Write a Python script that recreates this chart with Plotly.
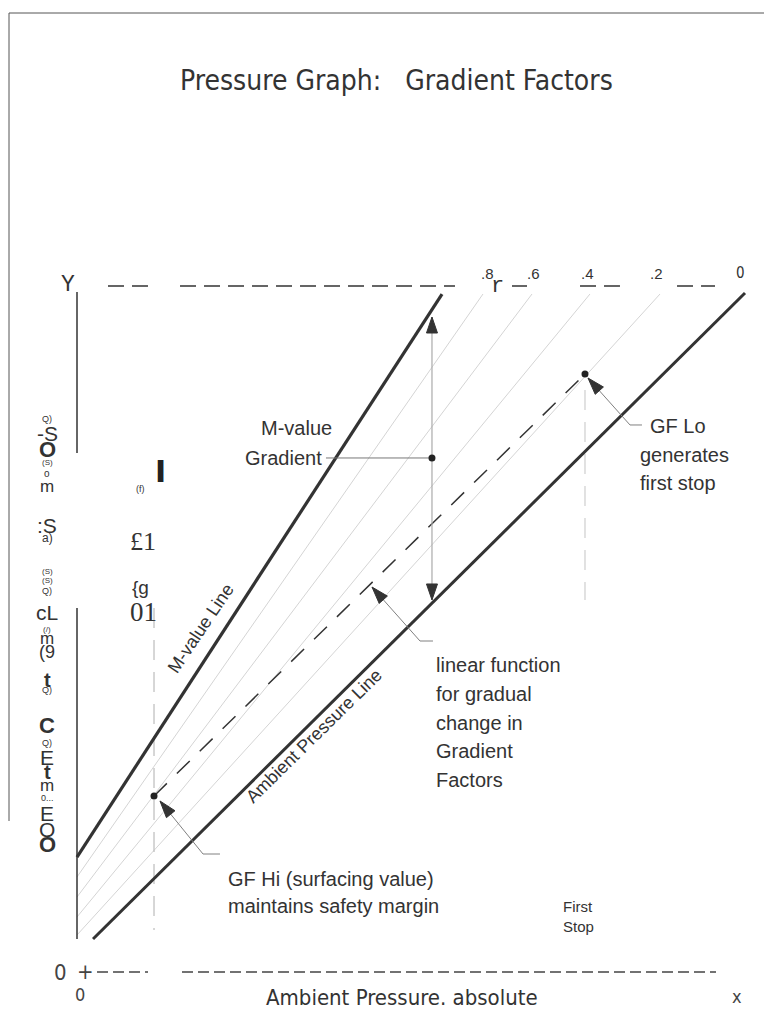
import math
import plotly.graph_objects as go

# ---------------- figure geometry (layout) ----------------
WIN_W, WIN_H = 772, 1011
OFF = 8                                  # page body margin
W, H = WIN_W - OFF, WIN_H - OFF          # figure size
X0_PX, X10_PX = 77, 742                  # window px of data x = 0 and x = 10
Y0_PX, Y10_PX = 972, 286                 # window px of data y = 0 and y = 10
SX = (X10_PX - X0_PX) / 10.0
SY = (Y0_PX - Y10_PX) / 10.0
X_RANGE = [-(X0_PX - OFF) / SX, (W - (X0_PX - OFF)) / SX]
Y_RANGE = [-(H - (Y0_PX - OFF)) / SY, (Y0_PX - OFF) / SY]

# ---------------- data ----------------
# M-value line and ambient pressure line (x = ambient pressure, y = inert gas pressure)
mvalue_x = [0.0, 5.489]
mvalue_y = [1.676, 9.883]
ambient_x = [0.241, 10.045]
ambient_y = [0.481, 9.898]

# gradient factor lines between them
gf_labels = [".8", ".6", ".4", ".2", "0"]
gf_label_x = [6.18, 6.86, 7.68, 8.72, 9.98]
gf_start_y = [1.385, 1.093, 0.802, 0.539]
gf_end_x = [6.105, 6.842, 7.714, 8.767]
gf_end_y = 9.883

# GF Hi (surfacing) point -> GF Lo (first stop) point
gf_path_x = [1.158, 7.639]
gf_path_y = [2.566, 8.717]
gf_hi_drop_y = [5.306, 0.612]
gf_lo_drop_y = [8.484, 5.423]

# M-value gradient double arrow
gradient_x = 5.338
gradient_y = [9.548, 5.423]
gradient_mid_y = 7.493
gradient_label_x = 3.744

# call-out arrows: [label end, bend, tip]
callout_gfhi_x = [2.150, 1.895, 1.248]
callout_gfhi_y = [1.720, 1.720, 2.493]
callout_linear_x = [5.353, 5.158, 4.436]
callout_linear_y = [4.825, 4.825, 5.612]
callout_gflo_x = [8.496, 8.316, 7.684]
callout_gflo_y = [7.974, 7.974, 8.659]

# axes (drawn as dashed rules like the scan)
y_axis_segments = [(9.913, 7.566), (5.306, 0.481)]
top_rule_segments = [(0.466, 1.098), (1.549, 5.684), (6.541, 6.767), (7.564, 8.165), (9.023, 9.594)]
bottom_rule_segments = [(0.301, 1.068), (1.579, 9.609)]

SANS = "Liberation Sans, Arial, sans-serif"
NARROW = "Liberation Sans Narrow, DejaVu Sans Condensed, Liberation Sans, sans-serif"
SERIF = "Liberation Serif, DejaVu Serif, serif"
MONO = "Liberation Mono, DejaVu Sans Mono, monospace"
DARK = "#333333"

fig = go.Figure()


def line(xs, ys, color=DARK, width=1.0, dash=None):
    fig.add_trace(go.Scatter(x=xs, y=ys, mode="lines", hoverinfo="skip",
                             line=dict(color=color, width=width, dash=dash)))


def head(tip_x, tip_y, from_x, from_y, length=16, width=10, color=DARK):
    dx = (from_x - tip_x) * SX
    dy = -(from_y - tip_y) * SY
    d = math.hypot(dx, dy)
    ux, uy = dx / d, dy / d
    bx, by = ux * length, uy * length
    nx, ny = -uy * width / 2, ux * width / 2
    pts = [(0, 0), (bx + nx, by + ny), (bx - nx, by - ny), (0, 0)]
    xs = [tip_x + p[0] / SX for p in pts]
    ys = [tip_y - p[1] / SY for p in pts]
    fig.add_trace(go.Scatter(x=xs, y=ys, mode="lines", fill="toself", fillcolor=color,
                             hoverinfo="skip", line=dict(color=color, width=1)))


# thin gradient factor lines
for sy, ex in zip(gf_start_y, gf_end_x):
    line([0.0, ex], [sy, gf_end_y], color="#d4d4d4", width=1)

# vertical dashed drops
line([gf_path_x[0]] * 2, gf_hi_drop_y, color="#bdbdbd", width=1.2, dash="20px,12px")
line([gf_path_x[1]] * 2, gf_lo_drop_y, color="#cfcfcf", width=1.2, dash="20px,12px")

# axes
for a, b in y_axis_segments:
    line([0.0, 0.0], [a, b], color=DARK, width=1.5)
for a, b in top_rule_segments:
    line([a, b], [10.0, 10.0], color=DARK, width=1.5, dash="16px,8px")
for a, b in bottom_rule_segments:
    line([a, b], [0.0, 0.0], color="#444444", width=1.5, dash="11px,5px")

# main lines
line(mvalue_x, mvalue_y, color=DARK, width=3.2)
line(ambient_x, ambient_y, color=DARK, width=3.0)

# GF path
line(gf_path_x, gf_path_y, color=DARK, width=1.5, dash="18px,14px")

# M-value gradient
line([gradient_x, gradient_x], gradient_y, color="#aaaaaa", width=1.2)
line([gradient_label_x, gradient_x], [gradient_mid_y, gradient_mid_y], color="#777777", width=1)
head(gradient_x, gradient_y[0], gradient_x, gradient_y[1], length=16, width=11)
head(gradient_x, gradient_y[1], gradient_x, gradient_y[0], length=16, width=11)

# call-outs
for cx, cy in [(callout_gfhi_x, callout_gfhi_y), (callout_linear_x, callout_linear_y),
               (callout_gflo_x, callout_gflo_y)]:
    line(cx, cy, color="#808080", width=1)
    head(cx[2], cy[2], cx[1], cy[1], length=17, width=11)

# points
fig.add_trace(go.Scatter(x=[gf_path_x[0], gf_path_x[1], gradient_x],
                         y=[gf_path_y[0], gf_path_y[1], gradient_mid_y],
                         mode="markers", hoverinfo="skip",
                         marker=dict(color="#222222", size=7)))

# ---------------- text ----------------
ann = []


def T(text, x, y, size=20, family=SANS, xanchor="center", angle=0, color=DARK):
    ann.append(dict(text=text, xref="paper", yref="paper", x=(x - OFF) / W, y=1 - (y - OFF) / H,
                    xanchor=xanchor, yanchor="middle", showarrow=False, textangle=angle,
                    font=dict(size=size, family=family, color=color)))


T("Pressure Graph:   Gradient Factors", 396, 80, size=28, family=NARROW)
T("Y", 68, 285, size=23, family=MONO)
T("r", 497, 286, size=22, family=MONO)
for lab, lx in zip(gf_labels, gf_label_x):
    T(lab, X0_PX + lx * SX, 273, size=15, family=SANS if lab != "0" else NARROW)

T("M-value", 296, 428)
T("Gradient", 324, 458, xanchor="right")
T("M-value Line", 201, 628, size=18, angle=-56)
T("Ambient Pressure Line", 314, 736, size=18, angle=-44.5)

for i, s in enumerate(["linear function", "for gradual", "change in", "Gradient", "Factors"]):
    T(s, 434, 665 + i * 28.8, xanchor="left")
T("GF Hi (surfacing value)", 226, 879, xanchor="left")
T("maintains safety margin", 226, 906, xanchor="left")
T("GF Lo", 648, 426, xanchor="left")
T("generates", 638, 455, xanchor="left")
T("first stop", 638, 483, xanchor="left")
T("First", 578, 906, size=15)
T("Stop", 578, 926, size=15)

T("0", 60, 972, size=22, family=NARROW, color="#444444")
T("+", 85, 971, size=22, family=NARROW, color="#444444")
T("0", 80, 994, size=18, family=NARROW, color="#444444")
T("Ambient Pressure. absolute", 402, 997, size=22, family=NARROW)
T("x", 737, 996, size=18, family=NARROW, color="#444444")

# scanned / OCR garbage of the rotated y-axis title
left_col = [("Q)", 419, 9), ("-S", 433, 21), ("<b>O</b>", 450, 22),
            ("(S)", 463, 8), ("o", 473, 10), ("m", 487, 17),
            (":S", 525, 21), ("a)", 538, 12), ("(S)", 571, 8),
            ("(S)", 580, 8), ("Q)", 591, 9), ("cL", 612, 21),
            ("(/)", 629, 8), ("m", 638, 17), ("(9", 652, 18),
            ("<b>t</b>", 680, 20), ("Q)", 690, 9), ("<b>C</b>", 725, 22),
            ("Q)", 743, 9), ("E", 757, 21), ("<b>t</b>", 772, 20),
            ("m", 785, 17), ("0...", 798, 9), ("E", 813, 21),
            ("O", 829, 21), ("<b>O</b>", 844, 22)]
for s, yy, sz in left_col:
    T(s, 47, yy, size=sz, family=SANS)

T("<b>I</b>", 160, 471, size=30, family="DejaVu Sans", color="#222222")
T("(f)", 140, 489, size=9)
T("£1", 143, 541, size=26, family=SERIF)
T("{g", 140, 587, size=19)
T("01", 143, 612, size=27, family=SERIF)

fig.update_layout(
    width=W, height=H, margin=dict(l=0, r=0, t=0, b=0),
    paper_bgcolor="white", plot_bgcolor="white", showlegend=False,
    xaxis=dict(range=X_RANGE, visible=False, fixedrange=True),
    yaxis=dict(range=Y_RANGE, visible=False, fixedrange=True),
    annotations=ann,
    shapes=[
        dict(type="line", xref="paper", yref="paper", x0=(9 - OFF) / W, y0=1 - (13 - OFF) / H,
             x1=1, y1=1 - (13 - OFF) / H, line=dict(color="#555555", width=1)),
        dict(type="line", xref="paper", yref="paper", x0=(9 - OFF) / W, y0=1 - (13 - OFF) / H,
             x1=(9 - OFF) / W, y1=1 - (821 - OFF) / H, line=dict(color="#555555", width=1)),
    ],
)

fig.write_html("out.html", config={"displayModeBar": False})
